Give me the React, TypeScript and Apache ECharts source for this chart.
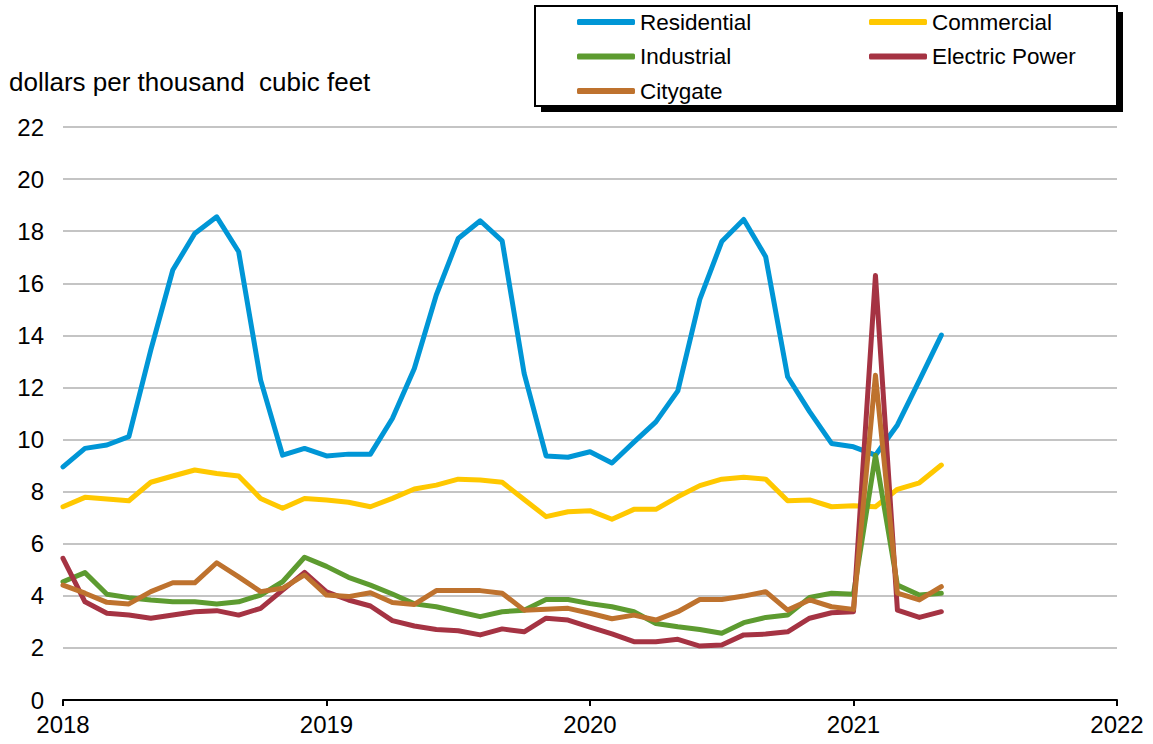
import React, { useEffect, useRef } from "react";
import * as echarts from "echarts";

const startYear = 2018;
const monthCount = 41; // Jan 2018 .. May 2021
const yearTicks = ["2018", "2019", "2020", "2021", "2022"];
const yTickValues = [0, 2, 4, 6, 8, 10, 12, 14, 16, 18, 20, 22];

const residential = [
  8.95, 9.66, 9.79, 10.11, 13.44, 16.51, 17.91, 18.55, 17.21, 12.28, 9.4, 9.66,
  9.37, 9.44, 9.44, 10.81, 12.73, 15.55, 17.72, 18.4, 17.63, 12.54, 9.37, 9.32,
  9.53, 9.1, 9.9, 10.68, 11.87, 15.38, 17.6, 18.45, 17.02, 12.41, 11.07, 9.85,
  9.72, 9.4, 10.56, 12.27, 14.01,
];
const commercial = [
  7.42, 7.78, 7.72, 7.65, 8.36, 8.6, 8.83, 8.7, 8.6, 7.74, 7.36, 7.74,
  7.68, 7.59, 7.42, 7.74, 8.1, 8.25, 8.48, 8.45, 8.36, 7.7, 7.04, 7.23,
  7.27, 6.94, 7.32, 7.32, 7.8, 8.23, 8.48, 8.55, 8.48, 7.65, 7.68, 7.42,
  7.46, 7.42, 8.09, 8.34, 9.02,
];
const industrial = [
  4.54, 4.89, 4.06, 3.93, 3.84, 3.77, 3.77, 3.69, 3.77, 4.03, 4.54, 5.48,
  5.13, 4.71, 4.41, 4.07, 3.69, 3.58, 3.39, 3.2, 3.39, 3.45, 3.86, 3.86,
  3.7, 3.58, 3.39, 2.94, 2.81, 2.71, 2.56, 2.97, 3.17, 3.26, 3.94, 4.1,
  4.06, 9.4, 4.41, 4.03, 4.1,
];
const electricPower = [
  5.44, 3.77, 3.33, 3.26, 3.14, 3.26, 3.39, 3.43, 3.26, 3.52, 4.22, 4.9,
  4.15, 3.84, 3.61, 3.05, 2.84, 2.71, 2.66, 2.5, 2.73, 2.62, 3.14, 3.07,
  2.8, 2.54, 2.24, 2.24, 2.33, 2.07, 2.11, 2.5, 2.53, 2.62, 3.14, 3.35,
  3.39, 16.3, 3.45, 3.17, 3.39,
];
const citygate = [
  4.41, 4.1, 3.75, 3.69, 4.16, 4.5, 4.5, 5.27, 4.73, 4.16, 4.29, 4.8,
  4.03, 3.97, 4.12, 3.74, 3.67, 4.2, 4.2, 4.2, 4.1, 3.45, 3.48, 3.52,
  3.33, 3.12, 3.26, 3.07, 3.39, 3.86, 3.86, 3.99, 4.16, 3.45, 3.84, 3.58,
  3.48, 12.47, 4.1, 3.84, 4.35,
];

const seriesNames = ["Residential", "Commercial", "Industrial", "Electric Power", "Citygate"];
const seriesColors = ["#0096D6", "#FFC800", "#5D9B30", "#A53343", "#BE722E"];
const seriesValues = [residential, commercial, industrial, electricPower, citygate];

const FONT = "'Liberation Sans', Arial, Helvetica, sans-serif";

function monthPositions(): number[] {
  const out: number[] = [];
  for (let i = 0; i < monthCount; i++) out.push(startYear + i / 12);
  return out;
}

export default function App() {
  const ref = useRef<HTMLDivElement>(null);
  useEffect(() => {
    if (!ref.current) return;
    const chart = echarts.init(ref.current, null, { renderer: "svg" });
    const xs = monthPositions();
    const series = seriesNames.map((name, k) => ({
      name,
      type: "line",
      data: seriesValues[k].map((v, i) => [xs[i], v]),
      showSymbol: false,
      symbol: "none",
      lineStyle: { color: seriesColors[k], width: 5, cap: "round", join: "round" },
      itemStyle: { color: seriesColors[k] },
      z: 2 + k,
    }));
    const legendCommon = {
      orient: "vertical",
      icon: "roundRect",
      itemWidth: 58,
      itemHeight: 6,
      itemGap: 8.5,
      selectedMode: false,
      textStyle: { fontFamily: FONT, fontSize: 22.5, color: "#000", lineHeight: 26 },
      z: 10,
    };
    chart.setOption({
      animation: false,
      backgroundColor: "#fff",
      title: {
        text: "dollars per thousand  cubic feet",
        left: 4,
        top: 64,
        textStyle: { fontFamily: FONT, fontSize: 26, fontWeight: "normal", color: "#000" },
      },
      graphic: [
        { type: "rect", shape: { x: 541, y: 12, width: 582, height: 100 }, style: { fill: "#000" }, z: 1 },
        { type: "rect", shape: { x: 535, y: 6, width: 582, height: 100 }, style: { fill: "#fff", stroke: "#000", lineWidth: 2 }, z: 2 },
      ],
      legend: [
        { ...legendCommon, left: 572, top: 4, data: ["Residential", "Industrial", "Citygate"] },
        { ...legendCommon, left: 864, top: 4, data: ["Commercial", "Electric Power"] },
      ],
      grid: { left: 63, right: 36, top: 127, bottom: 44, containLabel: false },
      xAxis: {
        type: "value",
        min: 2018,
        max: 2022,
        interval: 1,
        axisLine: { show: true, lineStyle: { color: "#000", width: 2 } },
        axisTick: { show: true, length: 6, lineStyle: { color: "#000", width: 2 } },
        splitLine: { show: false },
        axisLabel: {
          margin: 12,
          fontFamily: FONT,
          fontSize: 24,
          color: "#000",
          formatter: (v: number) => yearTicks[Math.round(v) - startYear] ?? "",
        },
      },
      yAxis: {
        type: "value",
        min: yTickValues[0],
        max: yTickValues[yTickValues.length - 1],
        interval: 2,
        axisLine: { show: false },
        axisTick: { show: false },
        splitLine: { show: true, lineStyle: { color: "#C4C4C4", width: 2 } },
        axisLabel: { margin: 19, fontFamily: FONT, fontSize: 24, color: "#000" },
      },
      series,
    });
    return () => chart.dispose();
  }, []);
  return (
    <div
      ref={ref}
      style={{ position: "absolute", left: 0, top: 0, width: 1153, height: 744 }}
    />
  );
}
